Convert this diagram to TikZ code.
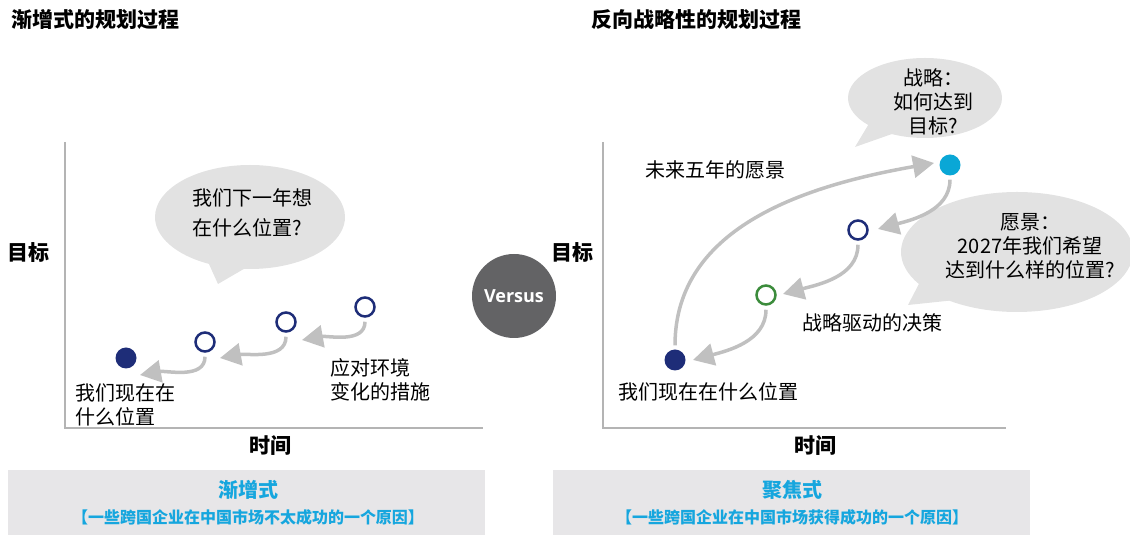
\documentclass[tikz,border=0pt]{standalone}
\usepackage{fontspec}
\setmainfont{Noto Sans CJK SC}
\newfontfamily\latinsans{Open Sans}
\usetikzlibrary{arrows.meta,shapes.callouts}
\definecolor{navy}{RGB}{30,45,120}
\definecolor{leaf}{RGB}{60,140,60}
\definecolor{sky}{RGB}{10,167,214}
\definecolor{bubblegray}{RGB}{226,226,226}
\definecolor{arrowgray}{RGB}{192,192,192}
\definecolor{axisgray}{RGB}{180,180,180}
\definecolor{panelgray}{RGB}{231,230,232}
\definecolor{disc}{RGB}{99,99,101}
\definecolor{accent}{RGB}{22,166,222}

\begin{document}
\begin{tikzpicture}
[x=1pt,y=1pt
,txt/.style={inner sep=0pt,font=\fontsize{20}{24}\selectfont}
,head/.style={inner sep=0pt,font=\fontsize{21}{24}\selectfont\bfseries}
,axis/.style={draw=axisgray,line width=1.5pt}
,now/.style={circle,fill=navy,minimum size=21pt,inner sep=0pt}
,ring/.style={circle,draw=navy,line width=2.5pt,fill=white,minimum size=19pt,inner sep=0pt}
,goal/.style={circle,fill=sky,minimum size=21pt,inner sep=0pt}
,ga/.style={draw=arrowgray,line width=3.5pt,arrows={-Triangle[length=21pt,width=22pt]},shorten <=4pt}
,bubble/.style={ellipse callout,fill=bubblegray,inner sep=0pt,callout pointer arc=22}
,panel/.style={fill=panelgray,minimum width=477pt,minimum height=65pt,inner sep=0pt}
,ptitle/.style={inner sep=0pt,text=accent,font=\fontsize{20}{24}\selectfont\bfseries}
,psub/.style={inner sep=0pt,text=accent,font=\fontsize{16}{18}\selectfont\bfseries}
]
\useasboundingbox (0,0) rectangle (1130,535);

\node[head,anchor=west] (t1) at (11,515) {渐增式的规划过程};
\node[head] (y1) at (28,282) {目标};
\node[head] (x1) at (270,89) {时间};
\draw[axis] (65,393) -- (65,107) -- (483,107);
\node[bubble,minimum width=190pt,minimum height=104pt,callout absolute pointer={(218,251)}] (q1) at (250,318) {};
\node[txt,align=left,font=\fontsize{20}{30}\selectfont] (q1t) at (252,322) {我们下一年想\\在什么位置?};

\node[now] (a0) at (126,177) {};
\node[ring] (a1) at (205,193) {};
\node[ring] (a2) at (286,213) {};
\node[ring] (a3) at (365,228) {};
\coordinate (h1) at (140,160);
\coordinate (h2) at (220,177);
\coordinate (h3) at (302,195);
\draw[ga] (a3.south) to[out=-90,in=10] (h3);
\draw[ga] (a2.south) to[out=-90,in=10] (h2);
\draw[ga] (a1.south) to[out=-90,in=10] (h1);
\node[txt,align=left,anchor=west] (n1) at (330,155) {应对环境\\变化的措施};
\node[txt,align=left,anchor=west] (n0) at (75,130) {我们现在在\\什么位置};

\node[circle,fill=disc,minimum size=84pt,inner sep=0pt,text=white,font=\latinsans\bfseries\fontsize{18}{20}\selectfont] (vs) at (514,239) {Versus};

\node[head,anchor=west] (t2) at (591,515) {反向战略性的规划过程};
\node[head] (y2) at (572,282) {目标};
\node[head] (x2) at (815,89) {时间};
\draw[axis] (603,393) -- (603,107) -- (1006,107);
\node[bubble,minimum width=154pt,minimum height=80pt,callout absolute pointer={(855,388)}] (q2) at (925,437) {};
\node[txt,align=center] (q2t) at (933,433) {战略：\\如何达到\\目标?};
\node[bubble,minimum width=232pt,minimum height=120pt,callout absolute pointer={(908,230)}] (q3) at (1017,283) {};
\node[txt,align=center] (q3t) at (1030,289) {愿景：\\2027年我们希望\\达到什么样的位置?};

\node[now] (b0) at (675,175) {};
\node[ring,draw=leaf] (b1) at (766,240) {};
\node[ring] (b2) at (858,305) {};
\node[goal] (b3) at (950,370) {};
\coordinate (k0) at (693,175);
\coordinate (k1) at (783,241);
\coordinate (k2) at (878,306);
\coordinate (k3) at (934,372);
\draw[ga] (b0.north) to[out=90,in=190] (k3);
\draw[ga] (b3.south) to[out=-90,in=15] (k2);
\draw[ga] (b2.south) to[out=-90,in=15] (k1);
\draw[ga] (b1.south) to[out=-90,in=15] (k0);
\node[txt,anchor=west] (v5) at (645,365) {未来五年的愿景};
\node[txt,anchor=west] (sd) at (802,212) {战略驱动的决策};
\node[txt,anchor=west] (b0t) at (618,143) {我们现在在什么位置};

\node[panel] (p1) at (246.5,32.5) {};
\node[panel] (p2) at (791.5,32.5) {};
\node[ptitle] (p1a) at (248,45) {渐增式};
\node[psub] (p1b) at (248,18) {【一些跨国企业在中国市场不太成功的一个原因】};
\node[ptitle] (p2a) at (792,45) {聚焦式};
\node[psub] (p2b) at (792,18) {【一些跨国企业在中国市场获得成功的一个原因】};
\end{tikzpicture}
\end{document}
